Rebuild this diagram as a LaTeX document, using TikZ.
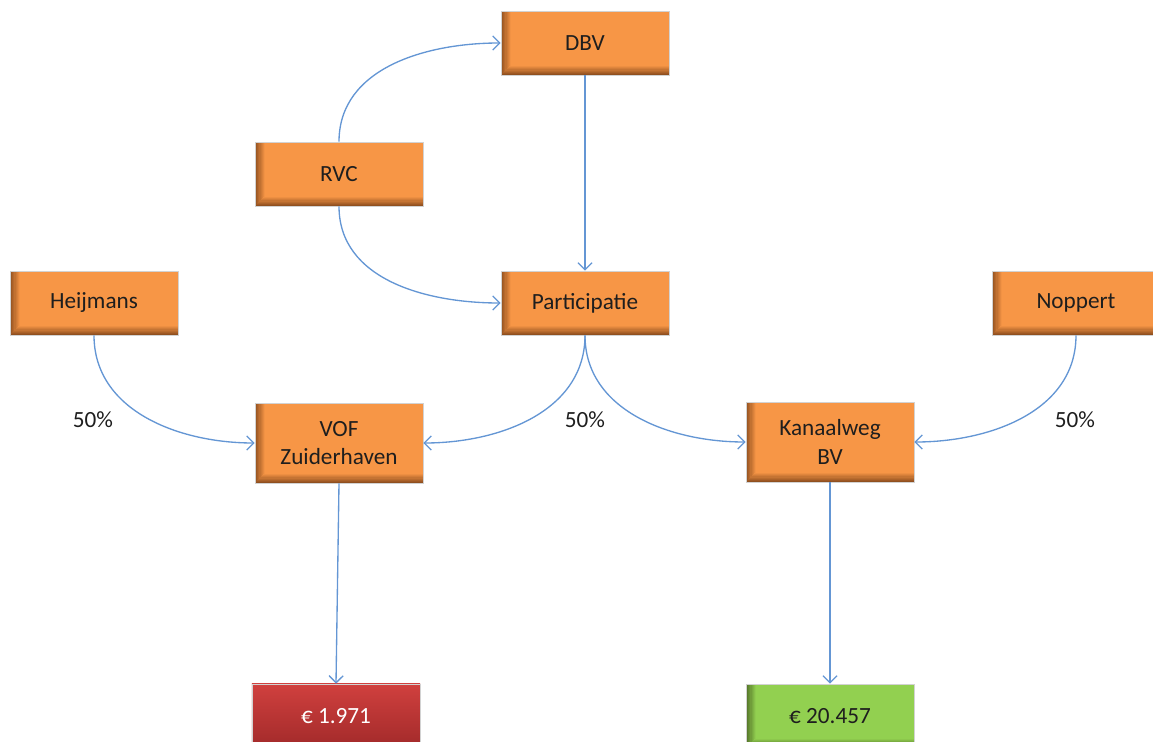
\documentclass[tikz,border=0pt]{standalone}
\usepackage{fontspec}
\setmainfont{Carlito}
\usetikzlibrary{arrows.meta}

\definecolor{boxorange}{HTML}{F79646}
\definecolor{boxbrown}{HTML}{7E4318}
\definecolor{boxgreen}{HTML}{92D050}
\definecolor{boxolive}{HTML}{465F20}
\definecolor{boxred}{HTML}{D0403E}
\definecolor{boxdarkred}{HTML}{A22A2A}
\definecolor{linkblue}{HTML}{6496D4}
\definecolor{boxtext}{HTML}{1E1E1E}

% dark fade along the left and bottom edge of a box
\newcommand{\edgeshade}[2]{%
	\foreach \i in {0,...,8}{%
		\pgfmathtruncatemacro\shadeval{85-\i*10}
		\fill[#1!\shadeval!#2] ([xshift=\i*0.8pt]path picture bounding box.south west) rectangle ([xshift=\i*0.8pt+0.8pt]path picture bounding box.north west);
	}%
	\foreach \i in {0,...,7}{%
		\pgfmathtruncatemacro\shadeval{85-\i*11}
		\fill[#1!\shadeval!#2] ([xshift=\i*0.8pt,yshift=\i*0.8pt]path picture bounding box.south west) rectangle ([yshift=\i*0.8pt+0.8pt]path picture bounding box.south east);
	}%
}

\begin{document}
\begin{tikzpicture}[x=0.025cm,y=0.025cm]
		\tikzstyle{box}=[rectangle,align=center,draw=gray!35,fill=boxorange,text=boxtext,minimum width=4.2cm,minimum height=1.6cm,font=\fontsize{16.5}{20}\selectfont,
			path picture={\edgeshade{boxbrown}{boxorange}}]
		\tikzstyle{greenbox}=[box,fill=boxgreen,path picture={\edgeshade{boxolive}{boxgreen}}]
		\tikzstyle{redbox}=[box,text=white,top color=boxred,bottom color=boxdarkred,path picture={}]
		\tikzstyle{edge}=[-{Straight Barb[length=5pt,width=10pt]},linkblue,line width=0.95pt]
		\tikzstyle{share}=[text=boxtext,font=\fontsize{16.5}{20}\selectfont]
		
		\useasboundingbox (0,0) rectangle (1153,-742);
		\clip (0,0) rectangle (1153,-742);
		
		\node [box] (dbv)  at (585, -43)  {DBV};
		\node [box] (rvc)  at (339, -174) {RVC};
		\node [box] (part) at (585, -303) {Participatie};
		\node [box] (heij) at ( 94, -303) {Heijmans};
		\node [box] (nopp) at (1076,-303) {Noppert};
		\node [box,minimum height=2cm] (vof) at (339, -443) {VOF\\Zuiderhaven};
		\node [box,minimum height=2cm] (kan) at (830, -442) {Kanaalweg\\BV};
		\node [redbox]   (loss) at (336, -716) {€ 1.971};
		\node [greenbox] (gain) at (830, -716) {€ 20.457};
		
		\node [share] (s1) at (  93, -420) {50\%};
		\node [share] (s2) at ( 585, -420) {50\%};
		\node [share] (s3) at (1075, -420) {50\%};
		
		\draw[edge] (rvc.north) to [out=90, in=180] (dbv.west);
		\draw[edge] (rvc.south) to [out=-90, in=180] (part.west);
		\draw[edge] (dbv) -- (part);
		\draw[edge] (heij.south) to [out=-90, in=180] (vof.west);
		\draw[edge] (part.south) to [out=-90, in=0] (vof.east);
		\draw[edge] (part.south) to [out=-90, in=180] (kan.west);
		\draw[edge] (nopp.south) to [out=-90, in=0] (kan.east);
		\draw[edge] (vof.south) -- (loss.north);
		\draw[edge] (kan) -- (gain);
	\end{tikzpicture}
\end{document}
